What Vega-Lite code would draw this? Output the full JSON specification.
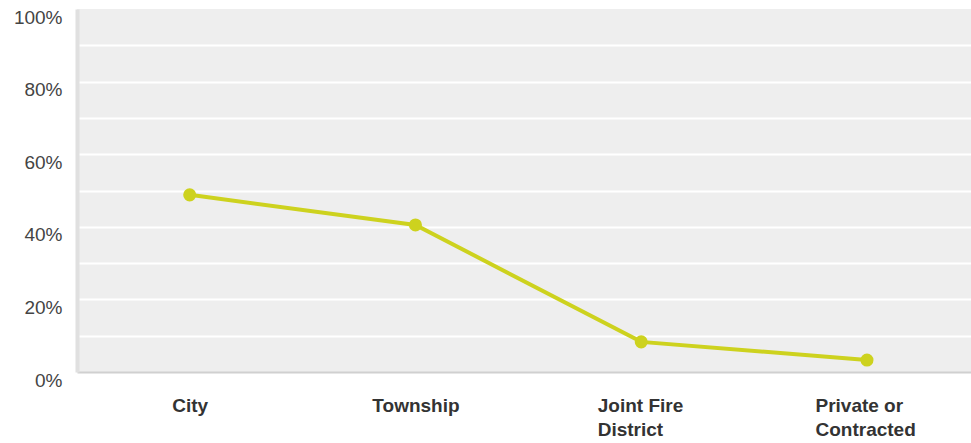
{
  "$schema": "https://vega.github.io/schema/vega-lite/v6.json",
  "autosize": "none",
  "width": 894,
  "height": 363,
  "padding": {"left": 77, "top": 9, "right": 0, "bottom": 71},
  "background": "#ffffff",
  "data": {
    "values": [
      {"department": "City", "share": 48.8},
      {"department": "Township", "share": 40.5},
      {"department": "Joint Fire District", "share": 8.3},
      {"department": "Private or Contracted", "share": 3.3}
    ]
  },
  "config": {
    "view": {"fill": "#eeeeee", "stroke": null},
    "font": "Liberation Sans"
  },
  "encoding": {
    "x": {
      "field": "department",
      "type": "nominal",
      "sort": null,
      "scale": {"type": "point", "padding": 0.48, "align": 0.52},
      "axis": {
        "title": null,
        "labelAngle": 0,
        "ticks": false,
        "grid": false,
        "domainColor": "#d0d0d0",
        "domainWidth": 2,
        "labelFont": "Liberation Sans",
        "labelFontSize": 19,
        "labelFontWeight": "bold",
        "labelColor": "#333333",
        "labelBaseline": "top",
        "labelPadding": 24,
        "labelLineHeight": 24,
        "labelExpr": "datum.value == 'Joint Fire District' ? ['Joint Fire', 'District'] : datum.value == 'Private or Contracted' ? ['Private or', 'Contracted'] : datum.value",
        "labelAlign": {
          "condition": {"test": "datum.value == 'Joint Fire District' || datum.value == 'Private or Contracted'", "value": "left"},
          "value": "center"
        },
        "labelOffset": {
          "condition": [
            {"test": "datum.value == 'Joint Fire District'", "value": -44},
            {"test": "datum.value == 'Private or Contracted'", "value": -52}
          ],
          "value": 0
        }
      }
    },
    "y": {
      "field": "share",
      "type": "quantitative",
      "scale": {"domain": [0, 100], "nice": false},
      "axis": {
        "title": null,
        "values": [0, 10, 20, 30, 40, 50, 60, 70, 80, 90, 100],
        "labelExpr": "datum.value % 20 == 0 ? datum.value + '%' : ''",
        "ticks": false,
        "domainColor": "#e0e0e0",
        "domainWidth": 4,
        "gridColor": {
          "condition": {"test": "datum.value == 0 || datum.value == 100", "value": "transparent"},
          "value": "#ffffff"
        },
        "gridWidth": 2,
        "gridOpacity": 1,
        "labelFont": "Liberation Sans",
        "labelFontSize": 19,
        "labelColor": "#444444",
        "labelPadding": 15,
        "labelOffset": 8,
        "labelBaseline": "middle"
      }
    }
  },
  "layer": [
    {
      "mark": {"type": "line", "color": "#cdd21e", "strokeWidth": 4}
    },
    {
      "mark": {"type": "point", "filled": true, "color": "#cdd21e", "opacity": 1, "size": 170}
    }
  ]
}
